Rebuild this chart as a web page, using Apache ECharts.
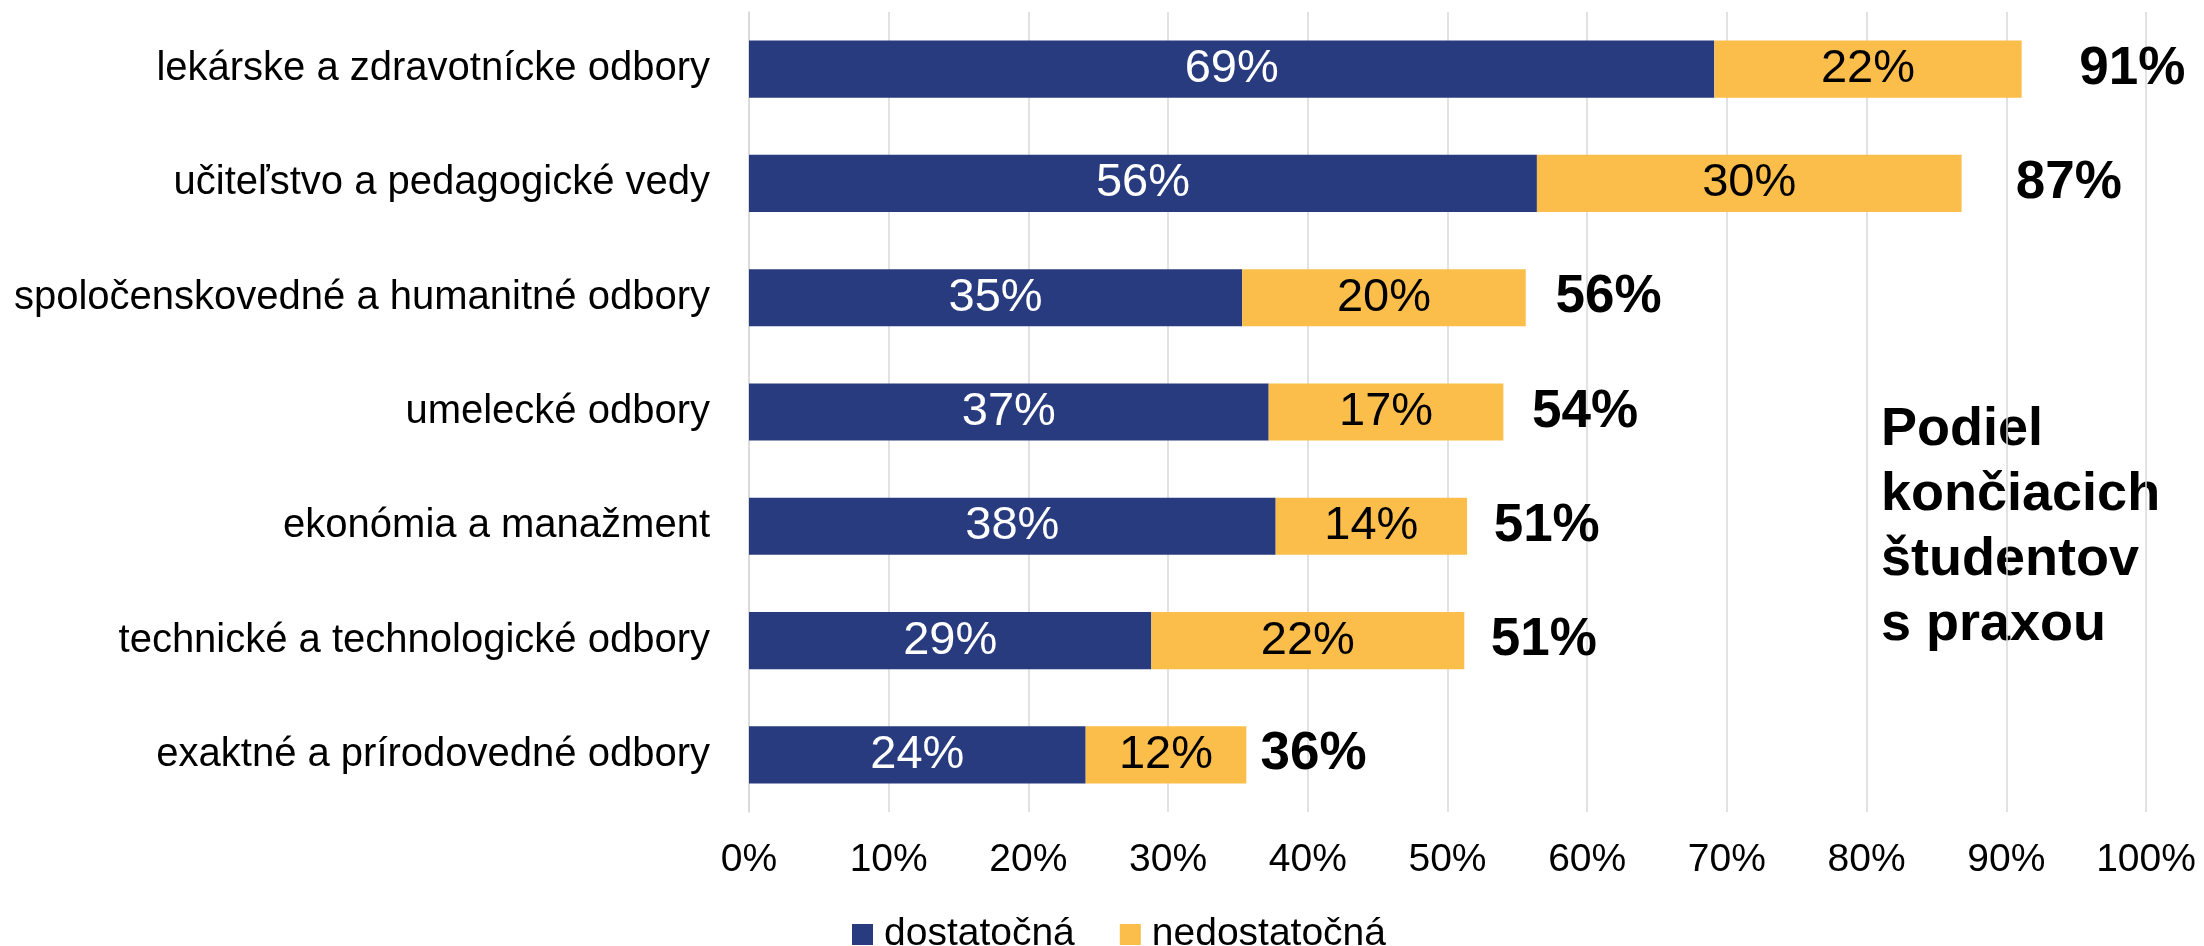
<!DOCTYPE html>
<html>
<head>
<meta charset="utf-8">
<script src="https://cdn.jsdelivr.net/npm/echarts@6/dist/echarts.min.js"></script>
<style>
html,body{margin:0;padding:0;background:#fff;}
#chart{width:2204px;height:946px;}
</style>
</head>
<body>
<div id="chart"></div>
<script>
const categories = [
  'lekárske a zdravotnícke odbory',
  'učiteľstvo a pedagogické vedy',
  'spoločenskovedné a humanitné odbory',
  'umelecké odbory',
  'ekonómia a manažment',
  'technické a technologické odbory',
  'exaktné a prírodovedné odbory'
];
const dostatocna = [69.1, 56.4, 35.3, 37.2, 37.7, 28.8, 24.1];
const nedostatocna = [22.0, 30.4, 20.3, 16.8, 13.7, 22.4, 11.5];
const xTicks = [0, 10, 20, 30, 40, 50, 60, 70, 80, 90, 100];
const titleLines = ['Podiel', 'končiacich', 'študentov', 's praxou'];

const totals = dostatocna.map((v, i) => v + nedostatocna[i]);
const FONT = "'Liberation Sans', Arial, sans-serif";
const BLUE = '#283B7E';
const YELLOW = '#FBBE4B';

const chart = echarts.init(document.getElementById('chart'));
chart.setOption({
  backgroundColor: '#fff',
  animation: false,
  textStyle: { fontFamily: FONT },
  grid: { left: 749, right: 58, top: 12, bottom: 134, containLabel: false },
  legend: {
    data: ['dostatočná', 'nedostatočná'],
    left: 847,
    top: 910,
    itemWidth: 21,
    itemHeight: 21,
    itemGap: 45,
    icon: 'rect',
    textStyle: { fontSize: 39, color: '#000', fontFamily: FONT, padding: [0, 0, 0, 6] }
  },
  xAxis: [
    {
      type: 'value',
      min: xTicks[0],
      max: xTicks[xTicks.length - 1],
      interval: xTicks[1] - xTicks[0],
      axisLine: { show: false },
      axisTick: { show: false },
      splitLine: { show: true, lineStyle: { color: '#D9D9D9', width: 1.5 } },
      axisLabel: { formatter: '{value}%', fontSize: 39, color: '#000', margin: 29, fontFamily: FONT }
    },
    {
      type: 'value',
      show: false,
      min: 0.95,
      max: 95.66,
      splitLine: { show: false }
    }
  ],
  yAxis: {
    type: 'category',
    data: categories,
    inverse: true,
    axisTick: { show: false },
    axisLine: { show: true, lineStyle: { color: '#D9D9D9', width: 1.5 } },
    axisLabel: { fontSize: 40, color: '#000', margin: 39, fontFamily: FONT }
  },
  graphic: [{
    type: 'text',
    left: 1881,
    top: 398,
    style: {
      text: titleLines.join('\n'),
      font: "bold 54px 'Liberation Sans', Arial, sans-serif",
      fill: '#000',
      lineHeight: 65
    }
  }],
  series: [
    {
      name: 'dostatočná',
      type: 'bar',
      stack: 'total',
      barCategoryGap: '50%',
      data: dostatocna,
      itemStyle: { color: BLUE },
      label: {
        show: true,
        position: 'inside',
        color: '#fff',
        fontSize: 47,
        fontFamily: FONT,
        textBorderWidth: 0,
        formatter: p => Math.round(p.value) + '%'
      }
    },
    {
      name: 'nedostatočná',
      type: 'bar',
      stack: 'total',
      barCategoryGap: '50%',
      data: nedostatocna,
      itemStyle: { color: YELLOW },
      label: {
        show: true,
        position: 'inside',
        color: '#000',
        fontSize: 47,
        fontFamily: FONT,
        textBorderWidth: 0,
        formatter: p => Math.round(p.value) + '%'
      }
    },
    {
      name: 'spolu',
      type: 'scatter',
      xAxisIndex: 1,
      symbolSize: 1,
      silent: true,
      itemStyle: { color: '#ffffff', opacity: 1 },
      data: totals.map((v, i) => [v, categories[i]]),
      label: {
        show: true,
        position: 'right',
        distance: 0,
        color: '#000000',
        opacity: 1,
        textBorderWidth: 0,
        fontSize: 53,
        fontWeight: 'bold',
        fontFamily: FONT,
        formatter: p => Math.round(p.value[0]) + '%'
      }
    }
  ]
});
</script>
</body>
</html>
